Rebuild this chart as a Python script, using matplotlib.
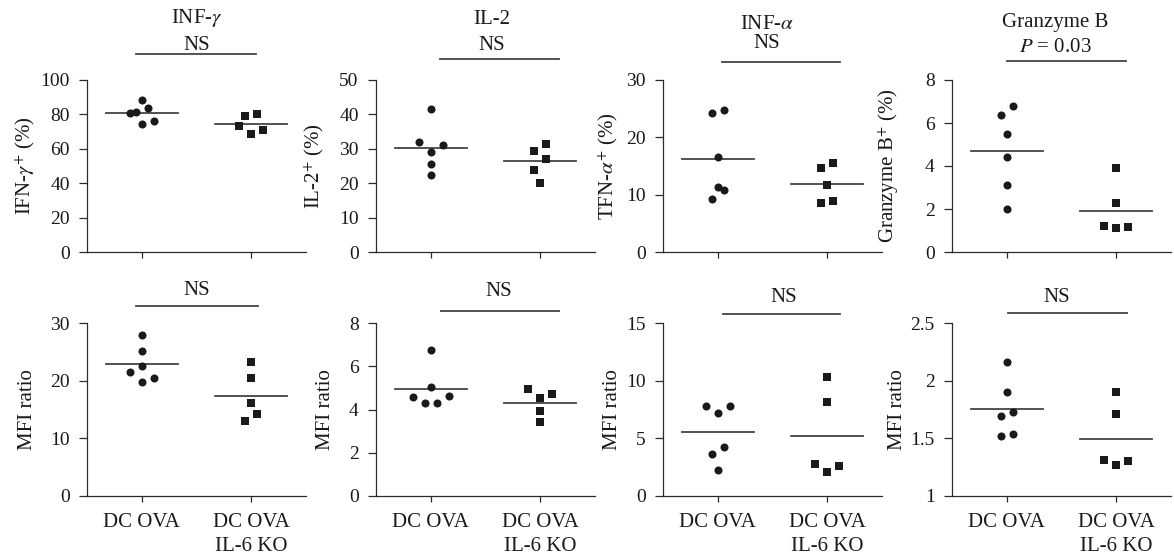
import numpy as np
import matplotlib
matplotlib.use("Agg")
import matplotlib.pyplot as plt

# ---------------- data ----------------
groups = ["DC OVA", "DC OVA\nIL-6 KO"]

# top row: % positive cells
ifng_ctrl = [88.4, 83.5, 81.2, 80.6, 76.4, 74.3]
ifng_ko = [80.5, 79.1, 73.5, 71.0, 68.5]
il2_ctrl = [41.7, 31.9, 31.0, 29.1, 25.7, 22.3]
il2_ko = [31.5, 29.3, 26.9, 23.8, 20.1]
tnfa_ctrl = [24.8, 24.2, 16.6, 11.4, 10.9, 9.3]
tnfa_ko = [15.6, 14.7, 11.7, 8.9, 8.6]
gzmb_ctrl = [6.77, 6.37, 5.51, 4.44, 3.13, 2.01]
gzmb_ko = [3.89, 2.29, 1.20, 1.17, 1.10]

# bottom row: MFI ratio
ifng_mfi_ctrl = [28.0, 25.2, 22.6, 21.5, 20.4, 19.8]
ifng_mfi_ko = [23.2, 20.4, 16.1, 14.3, 13.0]
il2_mfi_ctrl = [6.76, 5.03, 4.64, 4.57, 4.32, 4.32]
il2_mfi_ko = [4.94, 4.71, 4.52, 3.95, 3.44]
tnfa_mfi_ctrl = [7.83, 7.80, 7.22, 4.24, 3.68, 2.29]
tnfa_mfi_ko = [10.3, 8.12, 2.81, 2.61, 2.12]
gzmb_mfi_ctrl = [2.16, 1.90, 1.73, 1.69, 1.54, 1.52]
gzmb_mfi_ko = [1.90, 1.71, 1.31, 1.30, 1.27]

titles = ["INF-$\\gamma$", "IL-2", "INF-$\\alpha$", "Granzyme B"]
top_stats = ["NS", "NS", "NS", "$P$ = 0.03"]
bottom_stats = ["NS", "NS", "NS", "NS"]
top_ylabels = ["IFN-$\\gamma^{+}$ (%)", "IL-2$^{+}$ (%)",
               "TFN-$\\alpha^{+}$ (%)", "Granzyme B$^{+}$ (%)"]
bottom_ylabel = "MFI ratio"
top_yticks = [[0, 20, 40, 60, 80, 100], [0, 10, 20, 30, 40, 50],
              [0, 10, 20, 30], [0, 2, 4, 6, 8]]
bottom_yticks = [[0, 10, 20, 30], [0, 2, 4, 6, 8],
                 [0, 5, 10, 15], [1, 1.5, 2, 2.5]]

top_data = [(ifng_ctrl, ifng_ko), (il2_ctrl, il2_ko),
            (tnfa_ctrl, tnfa_ko), (gzmb_ctrl, gzmb_ko)]
bottom_data = [(ifng_mfi_ctrl, ifng_mfi_ko), (il2_mfi_ctrl, il2_mfi_ko),
               (tnfa_mfi_ctrl, tnfa_mfi_ko), (gzmb_mfi_ctrl, gzmb_mfi_ko)]

# ---------------- style ----------------
plt.rcParams["font.family"] = ["Liberation Serif", "DejaVu Serif"]
plt.rcParams["mathtext.fontset"] = "stix"
FS_TICK = 14
FS_TXT = 15
INK = "#1a1a1a"
AX = "#2b2b2b"
LINE = "#444444"

W, H = 1174, 556
fig = plt.figure(figsize=(W / 100, H / 100), dpi=100)

lefts_px = [87, 376, 663, 952]
width_px = 219
rows_px = [(80, 252), (323, 496)]


def swarm_offsets(values, px_per_y, px_per_x, row_h=11.0, step=12.0):
    v = np.asarray(values, float)
    order = np.argsort(v, kind="stable")
    rows, cur, start = [], [], None
    for i in order:
        ypx = v[i] * px_per_y
        if cur and ypx - start > row_h + 1e-6:
            rows.append(cur)
            cur = []
        if not cur:
            start = ypx
        cur.append(i)
    rows.append(cur)
    off = np.zeros(len(v))
    for row in rows:
        n = len(row)
        if n % 2:
            slots = [0.0]
            k = 1
            while len(slots) < n:
                slots += [k, -k]
                k += 1
        else:
            slots = []
            k = 0.5
            while len(slots) < n:
                slots += [-k, k]
                k += 1
        for idx, s in zip(row, slots):
            off[idx] = s * step / px_per_x
    return off


# annotation layout: (line x0, line x1, line y, text x, stat y, title y)
top_ann = [(-0.055, 1.04, 1.151, 0.505, 1.203, 1.36),
           (0.08, 1.17, 1.122, 0.56, 1.203, 1.35),
           (0.04, 1.12, 1.105, 0.45, 1.21, 1.32),
           (0.0, 1.09, 1.11, 0.44, 1.19, 1.335)]
bot_ann = [(-0.05, 1.06, 1.098, 0.505, 1.19),
           (0.09, 1.17, 1.069, 0.62, 1.18),
           (0.045, 1.12, 1.052, 0.60, 1.145),
           (0.01, 1.10, 1.058, 0.46, 1.15)]
top_ylab_x = [-0.283, -0.28, -0.25, -0.29]
bot_ylab_x = [-0.27, -0.23, -0.23, -0.25]

XLIM = (-0.5, 1.5)


def make_panel(col, row, data, yticks, ylabel, ylab_x, show_xlabels):
    top_px, bot_px = rows_px[row]
    left = lefts_px[col] / W
    bottom = 1 - bot_px / H
    height = (bot_px - top_px) / H
    ax = fig.add_axes([left, bottom, width_px / W, height])
    ymin, ymax = yticks[0], yticks[-1]
    ax.set_xlim(*XLIM)
    ax.set_ylim(ymin, ymax)
    px_per_x = width_px / (XLIM[1] - XLIM[0])
    px_per_y = (bot_px - top_px) / (ymax - ymin)
    for spine in ["top", "right"]:
        ax.spines[spine].set_visible(False)
    for spine in ["left", "bottom"]:
        ax.spines[spine].set_color(AX)
        ax.spines[spine].set_linewidth(0.9)
    markers = ["o", "s"]
    msizes = [5.8, 6.3]
    for g, vals in enumerate(data):
        vals = np.asarray(vals, float)
        off = swarm_offsets(vals - ymin, px_per_y, px_per_x)
        ax.plot(g + off, vals, linestyle="none", marker=markers[g],
                markersize=msizes[g], color=INK, markeredgewidth=0,
                clip_on=False, zorder=3)
        m = vals.mean()
        ax.plot([g - 0.33, g + 0.33], [m, m], color=LINE, lw=1.3, zorder=2)
    ax.set_yticks(yticks)
    ax.set_yticklabels(["%g" % t for t in yticks])
    ax.set_xticks([0, 1])
    if show_xlabels:
        ax.set_xticklabels(groups, linespacing=1.35)
    else:
        ax.set_xticklabels(["", ""])
    ax.tick_params(axis="y", direction="out", length=6, width=0.9,
                   color=AX, labelsize=FS_TICK, pad=6.5, labelcolor=INK)
    ax.tick_params(axis="x", direction="out", length=4.5, width=0.9,
                   color=AX, labelsize=FS_TXT, pad=8, labelcolor=INK)
    ax.set_ylabel(ylabel, fontsize=FS_TXT, color=INK)
    ax.yaxis.label.set_va("center")
    ax.yaxis.set_label_coords(ylab_x, 0.5)
    return ax


for c in range(4):
    ax = make_panel(c, 0, top_data[c], top_yticks[c], top_ylabels[c],
                    top_ylab_x[c], False)
    x0, x1, yl, xt, ys, yt = top_ann[c]
    tr = ax.get_xaxis_transform()
    ax.plot([x0, x1], [yl, yl], color=LINE, lw=1.3, transform=tr,
            clip_on=False)
    ax.text(xt, ys, top_stats[c], transform=tr, ha="center", va="center",
            fontsize=FS_TXT, color=INK)
    ax.text(xt, yt, titles[c], transform=tr, ha="center", va="center",
            fontsize=FS_TXT, color=INK)

for c in range(4):
    ax = make_panel(c, 1, bottom_data[c], bottom_yticks[c], bottom_ylabel,
                    bot_ylab_x[c], True)
    x0, x1, yl, xt, ys = bot_ann[c]
    tr = ax.get_xaxis_transform()
    ax.plot([x0, x1], [yl, yl], color=LINE, lw=1.3, transform=tr,
            clip_on=False)
    ax.text(xt, ys, bottom_stats[c], transform=tr, ha="center", va="center",
            fontsize=FS_TXT, color=INK)

fig.savefig("out.png", dpi=100, facecolor="white")
